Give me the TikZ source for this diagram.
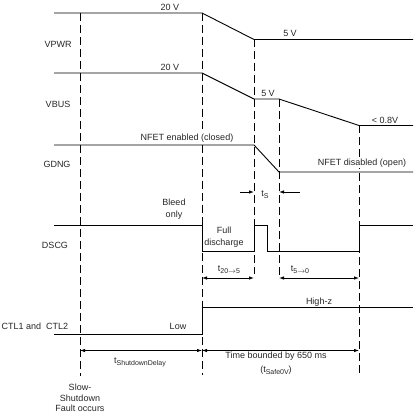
\documentclass[tikz,border=0pt]{standalone}
\usepackage{fontspec}
\setmainfont{Liberation Sans}
\usetikzlibrary{arrows.meta}
\usetikzlibrary{calc}
\usetikzlibrary{positioning}
\newcommand{\tsub}[1]{\raisebox{-2.2pt}{\fontsize{7}{8}\selectfont #1}}
\tikzset{
    wave/.style={
        line width=0.9pt
    },
    guide/.style={
        line width=1pt,
        dash pattern=on 8pt off 4pt
    },
    span/.style={
        {Latex[length=5pt,width=3.5pt]}-{Latex[length=5pt,width=3.5pt]},
        line width=0.8pt
    },
    pointer/.style={
        -{Latex[length=5pt,width=3.5pt]},
        line width=0.8pt
    },
    tag/.style={
        font=\fontsize{9}{11}\selectfont,
        text=black!85,
        inner sep=1pt,
        align=center
    }
}

\begin{document}
\begin{tikzpicture}[x=1pt,y=-1pt]
            \useasboundingbox (0,0) rectangle (413,417);
            % event lines
            \foreach \n/\x/\t/\b in {a/80/13/376,b/202/13/375,c/254/39/274,d/279/99/277,e/359/125/374}
              {
              \coordinate (\n-top) at (\x,\t);
              \coordinate (\n-bot) at (\x,\b);
              \draw[guide] (\n-top) -- (\n-bot);
              }
            % waveforms
            \draw[wave] (54,13) -- (202,13) -- (254,39.5) -- (413,39.5);
            \draw[wave] (54,73) -- (202,73) -- (254,99) -- (279,99) -- (359,125.5) -- (413,125.5);
            \draw[wave] (54,145) -- (254,145) -- (279,172) -- (413,172);
            \draw[wave] (54,225.5) -- (202,225.5) -- (202,251) -- (254,251) -- (254,225.5)
              -- (267.5,225.5) -- (267.5,251.5) -- (359,251.5) -- (359,225) -- (413,225);
            \draw[wave] (54,334) -- (202,334) -- (202,307) -- (413,307);
            % signal names
            \node[tag] (vpwr) at (58,44) {VPWR};
            \node[tag] (vbus) at (58,104) {VBUS};
            \node[tag] (gdng) at (57,164) {GDNG};
            \node[tag] (dscg) at (55,245) {DSCG};
            \node[tag] (ctl) at (35,326) {CTL1 and\ \ CTL2};
            % levels
            \node[tag] (vpwr-hi) at (170,7) {20 V};
            \node[tag] (vpwr-lo) at (290,33) {5 V};
            \node[tag] (vbus-hi) at (170,67) {20 V};
            \node[tag] (vbus-mid) at (268,93) {5 V};
            \node[tag] (vbus-lo) at (385,120) {< 0.8V};
            \node[tag,fill=white] (gdng-on) at (187,138) {NFET enabled (closed)};
            \node[tag,fill=white] (gdng-off) at (362,163) {NFET disabled (open)};
            \node[tag,font=\fontsize{9}{12}\selectfont] (bleed) at (174,209.5) {Bleed\\only};
            \node[tag,font=\fontsize{9}{12}\selectfont] (full) at (224,237) {Full\\discharge};
            \node[tag] (high) at (319,302) {High-z};
            \node[tag] (low) at (178,326) {Low};
            % timings
            \coordinate (s-l) at (240,192);
            \coordinate (s-r) at (300,192);
            \draw[pointer] (s-l) -- (c-top |- s-l);
            \draw[pointer] (s-r) -- (d-top |- s-r);
            \node[tag] (ts) at (265,195) {t\tsub{S}};
            \draw[span] (202,278) -- (254,278);
            \draw[span] (279,278) -- (359,278);
            \node[tag] (t20) at (229,270) {t\tsub{20$\rightarrow$5}};
            \node[tag] (t5) at (300,270) {t\tsub{5$\rightarrow$0}};
            \draw[span] (80,350.5) -- (202,350.5);
            \draw[span] (202,350.5) -- (359,350.5);
            \node[tag] (tsd) at (140,362) {t\tsub{ShutdownDelay}};
            \node[tag,font=\fontsize{9}{14}\selectfont] (tsafe) at (276,363) {Time bounded by 650 ms\\(t\tsub{Safe0V})};
            \node[tag,font=\fontsize{9}{10.5}\selectfont] (fault) at (80,398) {Slow-\\Shutdown\\Fault occurs};
          \end{tikzpicture}
\end{document}
